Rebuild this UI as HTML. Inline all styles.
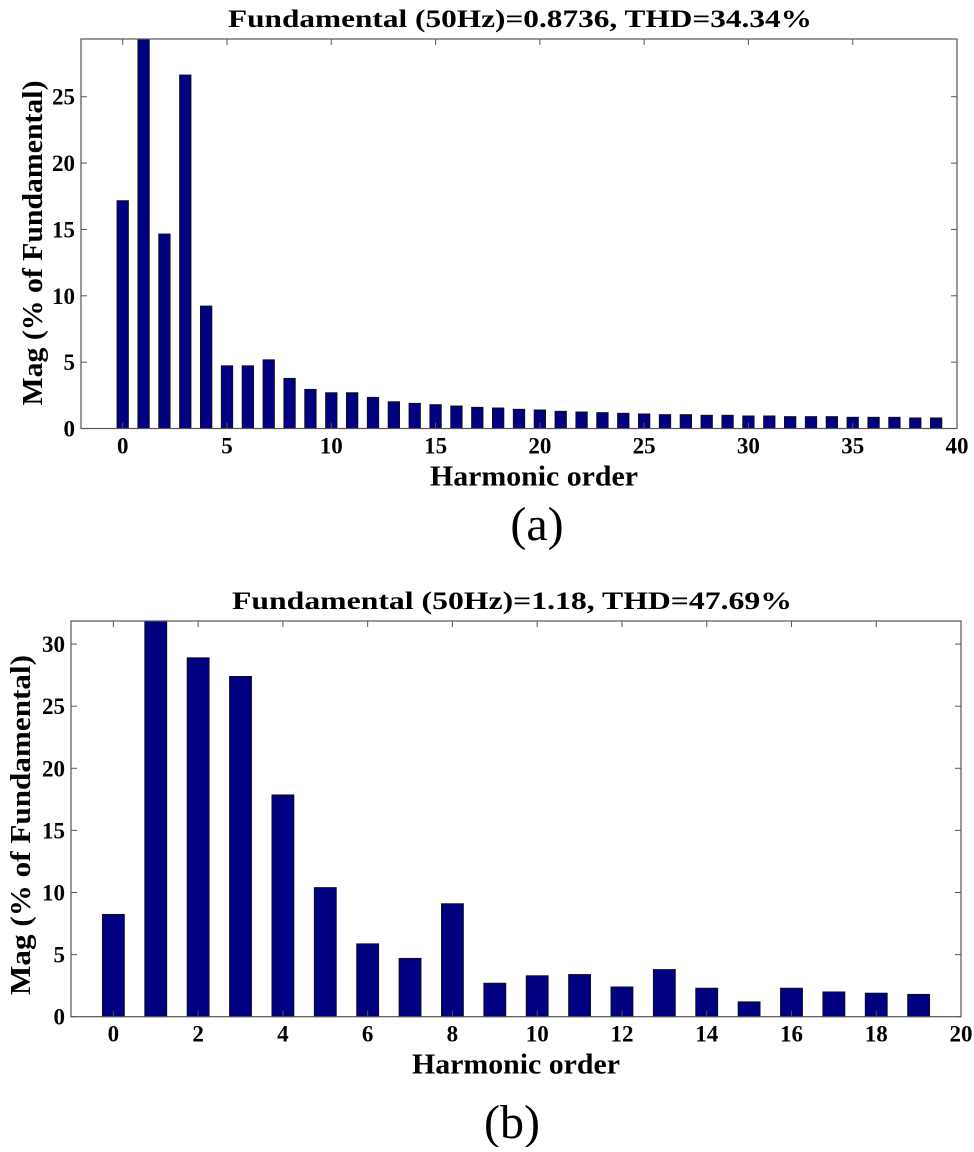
<!DOCTYPE html>
<html><head><meta charset="utf-8"><style>
html,body{margin:0;padding:0;background:#fff}
svg text{font-family:"Liberation Serif",serif;fill:#000}
</style></head><body>
<svg id="s" width="974" height="1147" viewBox="0 0 974 1147" xmlns="http://www.w3.org/2000/svg"></svg>
<script>
const catsA = Array.from({length:40},(_, i)=>i);
const valsA = [17.17,30,14.66,26.64,9.23,4.73,4.73,5.18,3.78,2.95,2.7,2.7,2.35,2.02,1.9,1.8,1.7,1.6,1.55,1.45,1.4,1.3,1.25,1.2,1.15,1.1,1.05,1.05,1.0,1.0,0.95,0.95,0.9,0.9,0.9,0.85,0.85,0.85,0.8,0.8];
const xTicksA = [0,5,10,15,20,25,30,35,40];
const yTicksA = [0,5,10,15,20,25];
const catsB = Array.from({length:20},(_, i)=>i);
const valsB = [8.24,32,28.9,27.4,17.86,10.4,5.87,4.7,9.1,2.7,3.3,3.4,2.4,3.8,2.3,1.2,2.3,2.0,1.9,1.8];
const xTicksB = [0,2,4,6,8,10,12,14,16,18,20];
const yTicksB = [0,5,10,15,20,25,30];

const NS="http://www.w3.org/2000/svg";
const svg=document.getElementById('s');
function mk(tag,attrs,parent){const e=document.createElementNS(NS,tag);for(const k in attrs)e.setAttribute(k,attrs[k]);(parent||svg).appendChild(e);return e;}

function chart(cfg){
  const g=mk('g',{});
  
  
  const {L,R,T,B,x0,x1,y0,y1}=cfg;
  const sx=v=>L+(v-x0)/(x1-x0)*(R-L);
  const sy=v=>B-(v-y0)/(y1-y0)*(B-T);
  cfg.cats.forEach((c,i)=>{
    const v=Math.min(cfg.vals[i],y1);
    const w=cfg.bw*(R-L)/(x1-x0);
    const r=mk('rect',{x:sx(c)-w/2,y:sy(v),width:w,height:sy(0)-sy(v),fill:'#000080',stroke:'#111','stroke-width':0.8},g);
    
    
  });
  const ax=mk('rect',{x:L,y:T,width:R-L,height:B-T,fill:'none',stroke:'#555','stroke-width':1.2},g);
  
  
  cfg.xt.forEach(t=>{
    const x=sx(t);
    mk('line',{x1:x,y1:B,x2:x,y2:B-6,stroke:'#555'},g);
    mk('line',{x1:x,y1:T,x2:x,y2:T+6,stroke:'#555'},g);
    const tx=mk('text',{x:x,y:B+25,'text-anchor':'middle','font-size':23,'font-weight':'bold'},g);
    tx.textContent=t;
    
    
  });
  cfg.yt.forEach(t=>{
    const y=sy(t);
    mk('line',{x1:L,y1:y,x2:L+6,y2:y,stroke:'#555'},g);
    mk('line',{x1:R,y1:y,x2:R-6,y2:y,stroke:'#555'},g);
    const tx=mk('text',{x:L-6,y:y+8,'text-anchor':'end','font-size':23,'font-weight':'bold'},g);
    tx.textContent=t;
    
    
  });
  const ti=mk('text',{x:cfg.tx-cfg.tw/2,y:T-12,'font-size':25,'font-weight':'bold',textLength:cfg.tw,lengthAdjust:'spacingAndGlyphs'},g);
  ti.textContent=cfg.title;
  
  
  const xl=mk('text',{x:cfg.xlx-104,y:B+57,'font-size':28,'font-weight':'bold',textLength:208,lengthAdjust:'spacingAndGlyphs'},g);
  xl.textContent='Harmonic order';
  
  
  const yc=cfg.ylc;
  const yl=mk('text',{x:cfg.ylx-cfg.yll/2,y:yc,'font-size':29,'font-weight':'bold',textLength:cfg.yll,lengthAdjust:'spacingAndGlyphs',transform:`rotate(-90 ${cfg.ylx} ${yc})`},g);
  yl.setAttribute('x',cfg.ylx-cfg.yll/2);
  yl.setAttribute('y',yc);
  yl.textContent='Mag (% of Fundamental)';
  
  
  const cap=mk('text',{x:cfg.capx,y:cfg.capy,'text-anchor':'middle','font-size':48},g);
  cap.textContent=cfg.cap;
  
  
}
chart({name:'chart-a',L:81,R:957,T:39,B:428.5,x0:-2,x1:40,y0:0,y1:29.35,bw:0.55,cats:catsA,vals:valsA,xt:xTicksA,yt:yTicksA,
  title:'Fundamental (50Hz)=0.8736, THD=34.34%',tx:520,tw:584,xlx:534,ylx:42,ylc:243,yll:325,cap:'(a)',capx:537,capy:540});
chart({name:'chart-b',L:71,R:961,T:621,B:1016.7,x0:-1,x1:20,y0:0,y1:31.86,bw:0.52,cats:catsB,vals:valsB,xt:xTicksB,yt:yTicksB,
  title:'Fundamental (50Hz)=1.18, THD=47.69%',tx:512,tw:560,xlx:516,ylx:30,ylc:825,yll:340,cap:'(b)',capx:512,capy:1138});
</script>
</body></html>
